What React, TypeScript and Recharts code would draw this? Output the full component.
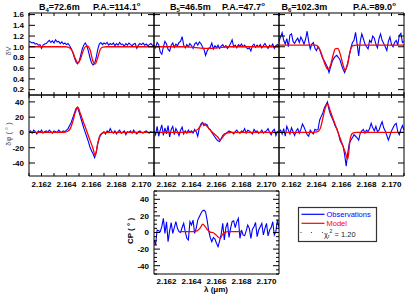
import React from 'react';
import { LineChart, Line, XAxis, YAxis } from 'recharts';

// ---------- data ----------
const lambdaObs = [
  2.161, 2.161125, 2.16125, 2.161375, 2.1615, 2.161625, 2.16175, 2.161875,
  2.162, 2.162125, 2.16225, 2.162375, 2.1625, 2.162625, 2.16275, 2.162875,
  2.163, 2.163125, 2.16325, 2.163375, 2.1635, 2.163625, 2.16375, 2.163875,
  2.164, 2.164125, 2.16425, 2.164375, 2.1645, 2.164625, 2.16475, 2.164875,
  2.165, 2.165125, 2.16525, 2.165375, 2.1655, 2.165625, 2.16575, 2.165875,
  2.166, 2.166125, 2.16625, 2.166375, 2.1665, 2.166625, 2.16675, 2.166875,
  2.167, 2.167125, 2.16725, 2.167375, 2.1675, 2.167625, 2.16775, 2.167875,
  2.168, 2.168125, 2.16825, 2.168375, 2.1685, 2.168625, 2.16875, 2.168875,
  2.169, 2.169125, 2.16925, 2.169375, 2.1695, 2.169625, 2.16975, 2.169875,
  2.17, 2.170125, 2.17025, 2.170375, 2.1705, 2.170625, 2.17075, 2.170875,
  2.171,
];

const lambdaModel = [
  2.161, 2.162, 2.163, 2.1635, 2.1639, 2.1641, 2.1643, 2.1645, 2.1647, 2.1649,
  2.1651, 2.1653, 2.1655, 2.1657, 2.1659, 2.1661, 2.1663, 2.1665, 2.1667, 2.1669,
  2.1672, 2.1676, 2.168, 2.169, 2.17, 2.171,
];

const obsV1 = [
  1.10, 1.09, 1.07, 1.08, 1.05, 1.06, 1.03, 1.04, 0.97, 1.03, 1.05,
  1.06, 1.09, 1.12, 1.08, 1.11, 1.07, 1.13, 1.09, 1.10, 1.06, 1.09, 1.05, 1.07, 1.04, 1.06,
  1.02, 0.97, 0.90, 0.80, 0.72, 0.68, 0.72, 0.83, 0.95, 1.03, 1.07, 1.02, 0.92, 0.80, 0.70, 0.66, 0.69, 0.80, 0.95, 1.05, 1.08,
  1.04, 1.07, 1.05, 1.08, 1.03, 1.06, 1.04, 1.07, 1.02, 1.06, 1.03, 1.08, 1.04, 1.05, 1.01, 1.06, 1.03,
  1.07, 1.04, 1.02, 1.05, 1.06, 0.97, 1.03, 1.06, 1.04, 1.07, 1.03, 1.05, 1.02, 1.04, 1.06, 1.03, 1.02,
];
const obsV2 = [
  1.02, 0.98, 1.08, 1.04, 0.90, 0.86, 1.00, 1.10, 1.05, 0.95, 0.92,
  1.03, 1.07, 0.99, 1.05, 1.02, 1.08, 1.10, 1.19, 1.03, 0.98,
  1.04, 1.00, 1.06, 1.02, 0.97, 1.05, 1.08, 1.03, 1.09, 1.06,
  1.00, 0.95, 0.84, 0.92, 0.97, 0.99, 1.07, 0.96, 1.02, 0.98,
  1.03, 0.97, 1.01, 1.04, 0.99, 1.02, 0.97, 1.01, 1.06, 1.13,
  1.00, 1.03, 0.98, 1.04, 1.01, 1.05, 1.00, 1.03, 0.99, 0.96,
  0.98, 0.92, 1.02, 1.05, 0.99, 1.03, 1.00, 1.04, 0.98, 1.02,
  1.06, 1.01, 0.97, 1.03, 1.00, 1.05, 0.97, 1.02, 1.04, 1.00,
];
const obsV3 = [
  1.10, 1.18, 1.26, 1.12, 1.05, 1.15, 1.00, 1.22, 1.24, 1.10, 1.06,
  1.12, 1.16, 1.08, 1.18, 1.12, 1.05, 1.14, 1.29, 1.10, 0.96,
  1.05, 1.08, 0.97, 0.93, 1.00, 0.95, 0.86, 0.78, 0.74, 0.68,
  0.62, 0.52, 0.62, 0.72, 0.78, 0.82, 0.84, 0.80, 0.76, 0.66,
  0.58, 0.52, 0.60, 0.70, 0.85, 0.98, 1.08, 1.12, 1.27, 1.05,
  0.83, 1.10, 1.24, 1.15, 1.05, 1.00, 0.96, 1.12, 1.08, 1.20,
  1.16, 1.05, 0.98, 1.15, 1.24, 1.12, 1.06, 1.00, 0.93, 1.10,
  1.18, 1.04, 1.00, 1.08, 1.12, 1.03, 1.21, 1.25, 1.08, 1.10,
];

const modelV1 = [1.0, 1.0, 1.0, 1.0, 1.0, 0.995, 0.97, 0.90, 0.78, 0.70, 0.76, 0.90, 1.0, 1.01, 0.93, 0.74, 0.68, 0.80, 0.95, 0.995, 1.0, 1.0, 1.0, 1.0, 1.0, 1.0];
const modelV2 = [1.0, 1.0, 1.0, 1.0, 0.995, 0.99, 0.985, 0.98, 0.975, 0.97, 0.97, 0.97, 0.97, 0.97, 0.975, 0.98, 0.985, 0.99, 0.995, 1.0, 1.0, 1.0, 1.0, 1.0, 1.0, 1.0];
const modelV3 = [1.03, 1.03, 1.03, 1.03, 1.03, 1.01, 0.93, 0.80, 0.66, 0.58, 0.64, 0.82, 0.96, 0.97, 0.86, 0.68, 0.56, 0.68, 0.92, 1.02, 1.03, 1.03, 1.03, 1.03, 1.03, 1.03];

const obsPhi1 = [
  0, 2, -1, 3, 1, -2, 2, 0, 3, -1, 1,
  2, 0, 3, 1, -1, 2, 1, 0, 3, 1, 0, 2, 1,
  3, 5, 9, 13, 19, 25, 31, 33, 27, 20, 13, 6, 0, -6, -12, -19, -24, -28, -33, -26, -15, -7, -3, -1,
  1, -2, 2, 0, 5, 1, -1, 2, -2, 1, 3, -1, 0, 2, -3, 1, 0, 2, -1, 3, 0, -2, 1, 2, 0, -1, 1, 2, 0, -1, 1, 0, 1,
];
const obsPhi2 = [
  2, -3, 8, -5, 3, 10, -4, 6, -2, 9, -6,
  4, 8, -3, 5, 1, -4, 3, 7, -2, 2,
  -1, 3, 0, 2, -1, 4, 1, -5, 6, 11,
  13, 9, 11, 10, 5, 4, 0, -3, -6, -9,
  -11, -12, -8, -4, -2, -1, 0, 2, 1, 0,
  -2, 1, 3, 0, -1, 2, 1, 5, -1, 3,
  2, 0, -2, 4, 1, 2, -1, 0, 3, -1,
  1, 2, 5, 0, -3, 2, 4, -4, 1, 2,
];
const obsPhi3 = [
  0, 3, -2, 5, -5, 8, 3, -2, 6, 1, -4,
  2, 5, -1, 4, 11, 7, 2, -3, -5, 3,
  0, -2, 4, 3, 4, 16, 21, 25, 32,
  36, 40, 30, 23, 19, 14, 8, 5, -1, -10, -14, -18, -29, -44, -27, -14, -10, -7, -3, -5, -7, -10, -1,
  2, 4, -1, 3, 1, 5, 12, 6,
  2, 8, 1, 3, 9, 14, 6, 2, -4, -10,
  -4, 2, 6, 10, 12, 1, -3, 4, 9, 3,
];

const modelPhi1 = [0, 0, 0, 0, 0.5, 1.5, 5, 14, 26, 33, 25, 16, 7, -2, -11, -20, -30, -14, -3, -0.5, 0, 0, 0, 0, 0, 0];
const modelPhi2 = [0, 0, 0, 0, 0, 1, 2, 4, 8, 12, 10, 7, 3, 0, -3, -6, -10, -6, -2, -0.5, 0, 0, 0, 0, 0, 0];
const modelPhi3 = [0, 0, 0, 0, 0.5, 1, 5, 18, 32, 37, 28, 19, 10, 1, -8, -17, -26, -35, -8, -1, 0, 0, 0, 0, 0, 0];

const obsCP = [
  -9, -15, 3, 2, 1, 7, 17, -1, 13, -11,
  2, 12, -1, 6, 13, 5, 1, 0, 6, 11,
  1, -7, -9, 13, 9, 15, -1, 5, 15, 19,
  23, 26, 27, 25, 15, 2, -6, -11, -6, -8,
  -13, -17, -10, -2, 11, -9, 6, 12, -6, 5,
  13, 14, 6, 13, 17, -7, 3, -3, -4, 2,
  9, 5, -7, 4, 7, 12, -5, 3, 7, 11,
  -3, 5, 11, -4, 3, 6, 13, -3, 1, 15,
  6,
];
const modelCP = [null, null, 1, 1, 1, 1, 1.5, 2.5, 5.5, 10, 7, 3, 0.5, 0, -2, -5, -7, -2, 0.5, 1, 1, 1, 1, null, null, null];

const baselineNames = ['4', '5', '6'];
const baselineLengths = ['72.6m', '46.5m', '102.3m'];
const positionAngles = ['114.1', '47.7', '89.0'];
const chi2Text = '1.20';

const xTicks = [2.161, 2.162, 2.163, 2.164, 2.165, 2.166, 2.167, 2.168, 2.169, 2.17, 2.171];
const xLabelTicks = [2.162, 2.164, 2.166, 2.168, 2.17];
const vTicks = [0.2, 0.4, 0.6, 0.8, 1.0, 1.2, 1.4, 1.6];
const phiTicks = [-40, -20, 0, 20, 40];
const cpTicks = [-50, -45, -40, -35, -30, -25, -20, -15, -10, -5, 0, 5, 10, 15, 20, 25, 30, 35, 40, 45, 50];
const cpMajor = [-40, -20, 0, 20, 40];

// ---------- layout / style ----------
const FONT = '"Liberation Sans", Arial, Helvetica, sans-serif';
const PAD_L = 34, PAD_R = 12, PAD_T = 12, PAD_B = 22;
const BLUE = '#0000ff';
const RED = '#ff0000';

type PanelProps = {
  left: number; top: number; width: number; height: number;
  yDomain: [number, number]; yTicks: number[]; yMajor?: number[];
  obs: (number | null)[]; model: (number | null)[];
  showYLabels: boolean; yFmt: (v: number) => string;
  showXLabels: boolean; xLabelDy: number; xTickLines: boolean;
};

const near = (arr: number[], v: number) => arr.some((t) => Math.abs(t - v) < 1e-7);

function Panel(p: PanelProps) {
  const W = p.width + PAD_L + PAD_R;
  const H = p.height + PAD_T + PAD_B;
  const obsData = lambdaObs.map((x, i) => ({ x, y: p.obs[i] }));
  const modelData = lambdaModel.map((x, i) => ({ x, y: p.model[i] }));
  const isMajor = (v: number) => (p.yMajor ? near(p.yMajor, v) : true);

  const leftTick = (props: any) => {
    const { x, y, payload } = props;
    const v = payload.value;
    const len = isMajor(v) ? 6 : 3;
    return (
      <g>
        <line x1={x} y1={y} x2={x + len} y2={y} stroke="#000" strokeWidth={1} />
        {p.showYLabels && isMajor(v) ? (
          <text x={x - 5} y={y} dy="0.35em" textAnchor="end" fontFamily={FONT} fontWeight="bold" fontSize={8} fill="#000">
            {p.yFmt(v)}
          </text>
        ) : null}
      </g>
    );
  };
  const rightTick = (props: any) => {
    const { x, y, payload } = props;
    const len = isMajor(payload.value) ? 6 : 3;
    return <line x1={x} y1={y} x2={x - len} y2={y} stroke="#000" strokeWidth={1} />;
  };
  const bottomTick = (props: any) => {
    const { x, y, payload } = props;
    const v = payload.value;
    return (
      <g>
        {p.xTickLines ? <line x1={x} y1={y} x2={x} y2={y - 3} stroke="#000" strokeWidth={1} /> : null}
        {p.showXLabels && near(xLabelTicks, v) ? (
          <text x={x} y={y + p.xLabelDy} textAnchor="middle" fontFamily={FONT} fontWeight="bold" fontSize={8} fill="#000">
            {v.toFixed(3)}
          </text>
        ) : null}
      </g>
    );
  };
  const topTick = (props: any) => {
    const { x, y } = props;
    return p.xTickLines ? <line x1={x} y1={y} x2={x} y2={y + 3} stroke="#000" strokeWidth={1} /> : <g />;
  };

  return (
    <div style={{ position: 'absolute', left: p.left - PAD_L, top: p.top - PAD_T, width: W, height: H }}>
      <LineChart width={W} height={H} margin={{ top: 0, right: 0, bottom: 0, left: 0 }}>
        <XAxis xAxisId="b" orientation="bottom" type="number" dataKey="x" domain={[2.161, 2.171]} allowDataOverflow
          ticks={p.showXLabels && !p.xTickLines ? xLabelTicks : xTicks} interval={0} height={PAD_B}
          tickSize={0} tickMargin={0} tickLine={false} tick={bottomTick} axisLine={{ stroke: '#000', strokeWidth: 1 }} />
        <XAxis xAxisId="t" orientation="top" type="number" dataKey="x" domain={[2.161, 2.171]} allowDataOverflow
          ticks={xTicks} interval={0} height={PAD_T}
          tickSize={0} tickMargin={0} tickLine={false} tick={topTick} axisLine={{ stroke: '#000', strokeWidth: 1 }} />
        <YAxis yAxisId="l" orientation="left" type="number" domain={p.yDomain} allowDataOverflow
          ticks={p.yTicks} interval={0} width={PAD_L}
          tickSize={0} tickMargin={0} tickLine={false} tick={leftTick} axisLine={{ stroke: '#000', strokeWidth: 1 }} />
        <YAxis yAxisId="r" orientation="right" type="number" domain={p.yDomain} allowDataOverflow
          ticks={p.yTicks} interval={0} width={PAD_R}
          tickSize={0} tickMargin={0} tickLine={false} tick={rightTick} axisLine={{ stroke: '#000', strokeWidth: 1 }} />
        <Line xAxisId="b" yAxisId="l" data={obsData} dataKey="y" name="Observations" type="linear"
          stroke={BLUE} strokeWidth={1.1} dot={false} activeDot={false} isAnimationActive={false} />
        <Line xAxisId="b" yAxisId="l" data={modelData} dataKey="y" name="Model" type="monotone"
          stroke={RED} strokeWidth={1.3} dot={false} activeDot={false} isAnimationActive={false} />
      </LineChart>
    </div>
  );
}

const colX = [29, 154, 279];
const obsVs = [obsV1, obsV2, obsV3];
const modelVs = [modelV1, modelV2, modelV3];
const obsPhis = [obsPhi1, obsPhi2, obsPhi3];
const modelPhis = [modelPhi1, modelPhi2, modelPhi3];
const titleB = [39, 170, 281.5];
const titlePA = [93, 222, 353];

export default function App() {
  const txt = { fontFamily: FONT } as const;
  return (
    <div style={{ position: 'absolute', left: 0, top: 0, width: 407, height: 295, background: '#fff', overflow: 'hidden' }}>
      {colX.map((cx, k) => (
        <Panel key={'v' + k} left={cx} top={13} width={125} height={82}
          yDomain={[0.1, 1.63]} yTicks={vTicks} obs={obsVs[k]} model={modelVs[k]}
          showYLabels={k === 0} yFmt={(v) => v.toFixed(1)}
          showXLabels={false} xLabelDy={10.5} xTickLines={true} />
      ))}
      {colX.map((cx, k) => (
        <Panel key={'p' + k} left={cx} top={95} width={125} height={81}
          yDomain={[-57, 49]} yTicks={phiTicks} obs={obsPhis[k]} model={modelPhis[k]}
          showYLabels={k === 0} yFmt={(v) => String(v)}
          showXLabels={true} xLabelDy={10.5} xTickLines={true} />
      ))}
      <Panel left={154} top={191} width={125} height={83}
        yDomain={[-50, 50]} yTicks={cpTicks} yMajor={cpMajor} obs={obsCP} model={modelCP}
        showYLabels={true} yFmt={(v) => String(v)}
        showXLabels={true} xLabelDy={9.5} xTickLines={false} />

      <svg width={407} height={295} style={{ position: 'absolute', left: 0, top: 0, pointerEvents: 'none' }}>
        {colX.map((cx, k) => (
          <g key={'t' + k} {...txt} fontWeight="bold" fontSize={9} fill="#000">
            <text x={titleB[k]} y={10}>
              B<tspan fontSize={6} dy={2}>{baselineNames[k]}</tspan>
              <tspan dy={-2}>={baselineLengths[k]}</tspan>
            </text>
            <text x={titlePA[k]} y={10}>
              P.A.={positionAngles[k]}<tspan fontSize={6} dy={-4}>o</tspan>
            </text>
          </g>
        ))}
        <text transform="translate(8,51) rotate(-90)" textAnchor="middle" dy="0.35em" {...txt} fontSize={7.5} fill="#555">δV</text>
        <text transform="translate(8,134) rotate(-90)" textAnchor="middle" dy="0.35em" {...txt} fontSize={7.5} fill="#555">δφ ( ° )</text>
        <text transform="translate(130.5,231) rotate(-90)" textAnchor="middle" dy="0.35em" {...txt} fontWeight="bold" fontSize={8} fill="#000">CP ( ° )</text>
        <text x={216} y={292} textAnchor="middle" {...txt} fontWeight="bold" fontSize={8} fill="#000">λ (μm)</text>

        <rect x={298.5} y={207.5} width={78} height={34} fill="#fff" stroke="#333" strokeWidth={1.2} />
        <line x1={301.5} y1={214.3} x2={324.5} y2={214.3} stroke={BLUE} strokeWidth={1.2} />
        <text x={326.5} y={217} {...txt} fontSize={7.5} fill={BLUE}>Observations</text>
        <line x1={301.5} y1={223.3} x2={324.5} y2={223.3} stroke={RED} strokeWidth={1.2} />
        <text x={326.5} y={226} {...txt} fontSize={7.5} fill={RED}>Model</text>
        <circle cx={301} cy={232.5} r={0.6} fill="#333" />
        <circle cx={311.5} cy={232.5} r={0.6} fill="#333" />
        <circle cx={322.5} cy={232.5} r={0.6} fill="#333" />
        <text x={324} y={236.5} {...txt} fontSize={7.5} fill="#222">
          χ<tspan fontSize={5} dy={1.5}>r</tspan><tspan fontSize={5} dy={-5}>2</tspan><tspan dy={3.5}> = {chi2Text}</tspan>
        </text>
      </svg>
    </div>
  );
}
